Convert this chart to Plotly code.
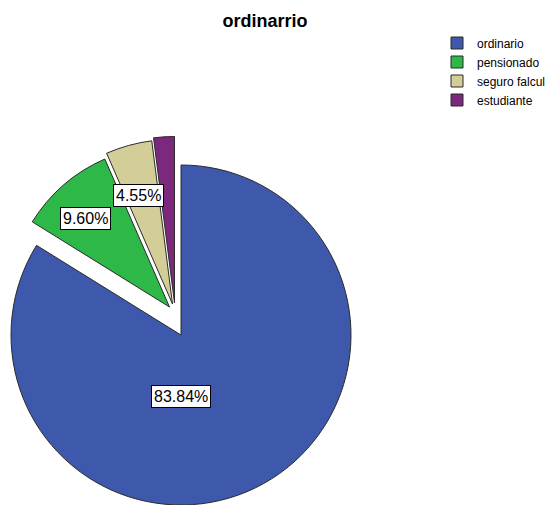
import plotly.graph_objects as go

# ---------------- data ----------------
labels = ["ordinario", "pensionado", "seguro falcul", "estudiante"]
values = [83.84, 9.60, 4.55, 2.01]
value_labels = ["83.84%", "9.60%", "4.55%", None]
chart_title = "ordinarrio"

# ---------------- layout / style ----------------
OFF = 8                      # page offset of the plot div (body margin)
W, H = 557 - OFF, 505 - OFF  # figure size so that it fits the window
colors = ["#3E58AC", "#2EB848", "#D3CE97", "#7C287D"]
edge = "#2b2b2b"
R = 170                      # pie radius in px
CX, CY = 181, 335            # pie centre (window px)
explode_px = [(0, 0), (-20, -28), (-14, -31), (-10, -32)]   # slice offsets of exploded slices
label_px = [(181, 396), (85, 218), (138, 195), None]        # label box centres (window px)
FONT = "Liberation Sans, Arial, sans-serif"

n = len(labels)
fig = go.Figure()


def fx(px):
    return (px - OFF) / W


def fy(py):
    return 1 - (py - OFF) / H


# one pie trace per slice so each exploded slice can sit at its own offset
for i in range(n):
    dx, dy = explode_px[i]
    vx, vy = CX + dx, CY + dy
    r = R
    deficit = (r + OFF) - vx          # room missing on the left edge of the window
    if deficit > 0:
        vx += deficit / 2
        r -= deficit / 2
    fig.add_trace(go.Pie(
        labels=labels,
        values=values,
        sort=False,
        direction="clockwise",
        rotation=0,
        marker=dict(
            colors=[colors[j] if j == i else "rgba(0,0,0,0)" for j in range(n)],
            line=dict(color=edge, width=[1 if j == i else 0 for j in range(n)]),
        ),
        textinfo="none",
        showlegend=False,
        hovertemplate="%{label}: %{percent}<extra></extra>",
        domain=dict(x=[max(0, fx(vx - r)), min(1, fx(vx + r))],
                    y=[max(0, fy(vy + r)), min(1, fy(vy - r))]),
    ))

# legend entries
for j in range(n):
    fig.add_trace(go.Scatter(
        x=[None], y=[None], mode="markers", name=labels[j],
        marker=dict(symbol="square", size=12, color=colors[j],
                    line=dict(color=edge, width=1)),
        hoverinfo="skip", showlegend=True,
    ))

annotations = []
for j in range(n):
    if value_labels[j] is None or label_px[j] is None:
        continue
    px, py = label_px[j]
    annotations.append(dict(
        text=value_labels[j], x=fx(px), y=fy(py), xref="paper", yref="paper",
        xanchor="center", yanchor="middle", showarrow=False,
        bgcolor="white", bordercolor="black", borderwidth=1, borderpad=2,
        font=dict(family=FONT, size=16, color="black"),
    ))

fig.update_layout(
    width=W, height=H,
    margin=dict(l=0, r=0, t=0, b=0),
    paper_bgcolor="white", plot_bgcolor="white",
    xaxis=dict(visible=False), yaxis=dict(visible=False),
    title=dict(text=chart_title, x=fx(265), xanchor="center",
               y=fy(21), yanchor="middle",
               font=dict(family=FONT, size=18, color="black", weight="bold")),
    legend=dict(x=fx(437), xanchor="left", y=fy(28.5), yanchor="top",
                font=dict(family=FONT, size=12, color="black"),
                bgcolor="rgba(0,0,0,0)", borderwidth=0, itemclick=False),
    annotations=annotations,
)

fig.write_html("out.html")
